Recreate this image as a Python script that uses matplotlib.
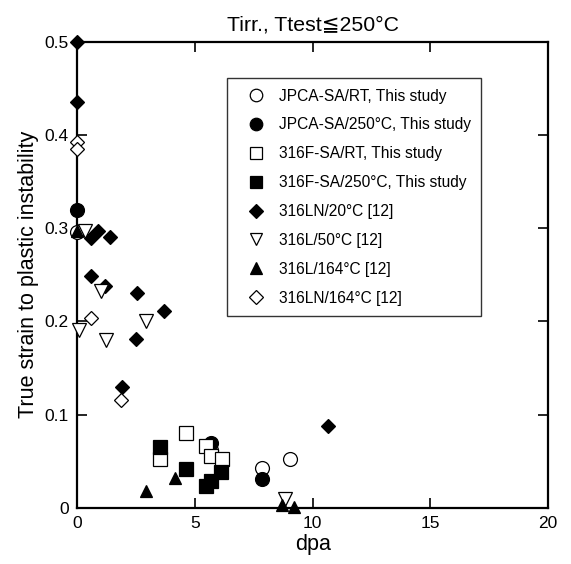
import matplotlib
matplotlib.use("Agg")
import matplotlib.pyplot as plt

plt.rcParams['font.family'] = ['Liberation Sans', 'DejaVu Sans']

# JPCA-SA/RT, This study (open circles)
jpca_rt_x = [0.0, 5.7, 7.87, 9.06]
jpca_rt_y = [0.296, 0.062, 0.043, 0.0525]
# JPCA-SA/250C, This study (filled circles)
jpca_250_x = [0.0, 5.7, 7.87]
jpca_250_y = [0.319, 0.070, 0.031]
# 316F-SA/RT, This study (open squares)
f316_rt_x = [3.53, 4.61, 5.49, 5.7, 6.17]
f316_rt_y = [0.0525, 0.080, 0.066, 0.056, 0.052]
# 316F-SA/250C, This study (filled squares)
f316_250_x = [3.53, 4.61, 5.49, 5.67, 6.1]
f316_250_y = [0.065, 0.042, 0.024, 0.029, 0.039]
# 316LN/20C [12] (filled diamonds)
ln20_x = [0.0, 0.0, 0.6, 0.9, 1.4, 0.57, 1.2, 2.54, 3.68, 2.49, 1.89, 10.66]
ln20_y = [0.5, 0.435, 0.289, 0.297, 0.291, 0.249, 0.2375, 0.230, 0.211, 0.181, 0.130, 0.0875]
# 316L/50C [12] (open down triangles)
l50_x = [0.35, 1.03, 2.94, 0.1, 1.24, 8.82]
l50_y = [0.297, 0.233, 0.200, 0.191, 0.180, 0.0099]
# 316L/164C [12] (filled up triangles)
l164_x = [0.0, 2.94, 4.14, 8.68, 9.2]
l164_y = [0.297, 0.018, 0.032, 0.0035, 0.001]
# 316LN/164C [12] (open diamonds)
ln164_x = [0.0, 0.0, 0.57, 1.88]
ln164_y = [0.392, 0.385, 0.204, 0.116]

labels = ['JPCA-SA/RT, This study', 'JPCA-SA/250°C, This study',
          '316F-SA/RT, This study', '316F-SA/250°C, This study',
          '316LN/20°C [12]', '316L/50°C [12]', '316L/164°C [12]', '316LN/164°C [12]']

fig = plt.figure(figsize=(5.71, 5.64), dpi=100)
ax = fig.add_axes([0.135, 0.0993, 0.825, 0.827])

series = [
    (jpca_rt_x, jpca_rt_y, 'o', 'white', 10),
    (jpca_250_x, jpca_250_y, 'o', 'black', 10),
    (f316_rt_x, f316_rt_y, 's', 'white', 10),
    (f316_250_x, f316_250_y, 's', 'black', 10),
    (ln20_x, ln20_y, 'D', 'black', 7.5),
    (l50_x, l50_y, 'v', 'white', 9.5),
    (l164_x, l164_y, '^', 'black', 9),
    (ln164_x, ln164_y, 'D', 'white', 7.5),
]
for (x, y, m, fc, ms), lab in zip(series, labels):
    ax.plot(x, y, linestyle='none', marker=m, markersize=ms, markerfacecolor=fc,
            markeredgecolor='black', markeredgewidth=0.9, label=lab, clip_on=False, zorder=3)

ax.set_xlim(0, 20)
ax.set_ylim(0, 0.5)
ax.set_xticks([0, 5, 10, 15, 20])
ax.set_yticks([0, 0.1, 0.2, 0.3, 0.4, 0.5])
ax.set_yticklabels(['0', '0.1', '0.2', '0.3', '0.4', '0.5'])
ax.tick_params(direction='in', top=True, right=True, length=7, width=1.2,
               labelsize=12.5, pad=6)
for s in ax.spines.values():
    s.set_linewidth(1.6)

ax.set_xlabel('dpa', fontsize=15.5, labelpad=2)
ax.set_ylabel('True strain to plastic instability', fontsize=15.5, labelpad=4)
ax.set_title('Tirr., Ttest≦250°C', fontsize=15.3, pad=8)

leg = ax.legend(loc='upper left', bbox_to_anchor=(0.318, 0.9215), fontsize=11.2,
                frameon=True, fancybox=False, edgecolor='black', handletextpad=0.25,
                labelspacing=0.89, borderpad=0.67, handlelength=2.4, numpoints=1,
                borderaxespad=0)
leg.get_frame().set_linewidth(1.0)
for h in leg.legend_handles:
    h.set_markersize(h.get_markersize() * 0.9)

fig.savefig('out.png', dpi=100)
